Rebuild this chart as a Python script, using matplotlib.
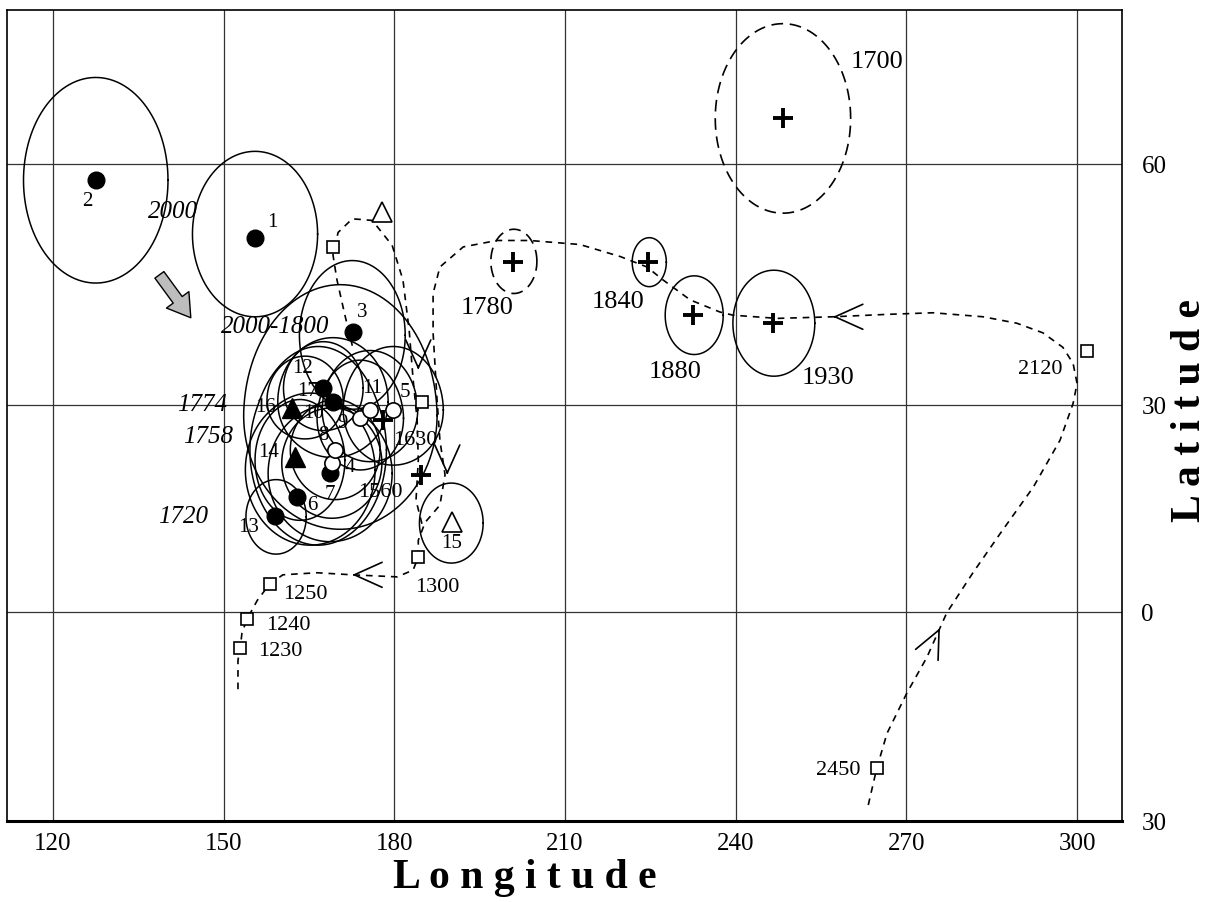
import numpy as np
import matplotlib.pyplot as plt

plt.rcParams['font.family'] = ['Liberation Serif', 'DejaVu Serif']

# the latitude grid of the original is not evenly spaced, knots read off it
LAT_KNOTS = [-90, -30, 0, 30, 60, 90]
POS_KNOTS = [-418, 0, 209, 416, 657, 898]


def lat_fwd(v):
    return np.interp(v, LAT_KNOTS, POS_KNOTS)


def lat_inv(v):
    return np.interp(v, POS_KNOTS, LAT_KNOTS)


# confidence ellipses: centre lon, lat and semi-axes (deg)
ell_lon = [155.5, 127.5, 172.6, 170.5, 179.8, 175.7, 174.0, 167.5, 169.2,
           164.3, 163.4, 169.6, 169.0, 168.7, 165.2, 159.2, 166.6, 190.0,
           224.8, 232.7, 246.7]
ell_lat = [51.3, 58.0, 38.7, 28.5, 29.3, 29.3, 28.1, 32.1, 30.4,
           30.6, 22.0, 23.5, 21.6, 20.1, 20.6, 13.8, 23.5, 12.9,
           47.8, 41.2, 40.2]
ell_a = [11.0, 12.7, 9.3, 17.0, 8.8, 8.4, 7.6, 7.0, 9.7,
         6.7, 7.9, 7.9, 8.8, 10.9, 11.4, 5.3, 12.0, 5.6,
         3.0, 5.1, 7.2]
ell_b = [10.3, 12.8, 9.3, 16.5, 8.0, 7.5, 7.5, 5.8, 8.0,
         5.5, 8.7, 7.2, 8.0, 9.9, 10.9, 5.4, 13.8, 5.8,
         3.05, 4.9, 6.6]

# dashed ellipses (1700, 1780)
dell_lon = [248.3, 201.0]
dell_lat = [65.7, 47.9]
dell_a = [11.9, 4.05]
dell_b = [11.8, 4.0]

# site poles
dot_lon = [155.5, 127.6, 172.7, 167.5, 169.2, 162.9, 159.0, 168.7]
dot_lat = [50.8, 58.0, 39.1, 32.1, 30.4, 16.7, 13.9, 20.1]
ring_lon = [169.0, 169.6, 174.0, 175.7, 179.8]
ring_lat = [21.6, 23.5, 28.1, 29.3, 29.3]
tri_lon = [162.0, 162.5]
tri_lat = [29.6, 22.5]
otri_lon = [177.8, 190.1]
otri_lat = [54.0, 13.0]
cross_lon = [200.9, 224.6, 232.5, 246.6, 248.3, 178.0, 184.7]
cross_lat = [47.8, 47.8, 41.2, 40.2, 65.7, 27.8, 19.9]
sq_lon = [169.2, 184.9, 184.2, 158.1, 154.1, 152.9, 301.8, 264.8]
sq_lat = [49.7, 30.4, 8.0, 4.1, -1.0, -5.2, 36.7, -22.4]

# apparent polar wander path (dashed), 2450 end first
path_lon = [263.3, 264.8, 266.6, 270.1, 273.6, 277.1, 281.7, 286.5, 292.3,
            297.0, 299.3, 300.0, 299.3, 297.5, 294.0, 289.4, 283.5, 274.7,
            266.6, 257.1, 247.3, 239.5, 237.2, 232.0, 227.2, 224.4, 219.7,
            212.6, 203.8, 198.0, 192.1, 188.0, 186.8, 186.8, 187.5, 188.0,
            188.9, 188.0, 185.4, 184.2, 184.2, 183.3, 180.5, 172.6, 166.4,
            160.4, 158.1, 155.9, 154.1, 153.2, 152.9, 152.5, 152.5]
path_lat = [-27.7, -22.4, -17.4, -11.6, -6.5, -0.1, 5.7, 11.4, 18.1,
            24.9, 30.2, 32.7, 35.2, 37.2, 39.0, 40.2, 41.0, 41.5,
            41.3, 41.0, 40.8, 41.2, 41.6, 43.1, 45.6, 47.2, 48.5,
            50.0, 50.5, 50.5, 49.7, 47.2, 43.9, 39.0, 30.6, 24.9,
            19.9, 15.5, 13.0, 10.4, 8.0, 6.1, 5.1, 5.4, 5.7,
            5.4, 4.1, 1.7, -1.0, -3.0, -5.2, -6.9, -11.6]
loop_lon = [172.6, 171.3, 169.9, 169.2, 170.1, 172.6, 176.1, 179.6, 181.5,
            182.6, 183.3, 184.0, 184.2, 183.8, 184.9]
loop_lat = [37.4, 41.2, 45.6, 48.7, 51.5, 53.2, 53.0, 49.9, 45.6,
            39.3, 33.1, 27.8, 22.0, 16.2, 12.6]

# open arrow heads on the path: tip and a point just behind it
arr_lon = [257.1, 172.6, 275.9, 184.2, 189.3]
arr_lat = [41.0, 5.4, -2.3, 34.4, 19.9]
arr_from_lon = [257.6, 173.1, 275.6, 184.2, 189.3]
arr_from_lat = [41.0, 5.4, -2.8, 34.9, 20.4]

# labels
num_text = ['1', '2', '3', '12', '17', '10', '16', '14', '6', '13', '7', '4',
            '8', '9', '11', '5', '15']
num_lon = [158.5, 126.0, 174.3, 163.9, 164.7, 165.7, 157.3, 157.8, 165.5,
           154.3, 168.7, 172.2, 167.5, 170.8, 176.1, 181.9, 190.1]
num_lat = [52.7, 55.3, 41.5, 34.5, 31.7, 28.8, 29.7, 23.2, 15.5, 12.3, 17.0,
           21.0, 25.6, 27.3, 32.1, 31.6, 10.0]
age_text = ['1630', '1560', '1300', '1250', '1240', '1230', '2120', '2450']
age_lon = [183.6, 177.5, 187.5, 164.3, 161.3, 159.9, 293.5, 258.0]
age_lat = [24.9, 17.4, 3.6, 2.5, -1.9, -5.7, 34.4, -22.7]
big_text = ['1780', '1840', '1880', '1930', '1700']
big_lon = [196.3, 219.3, 229.3, 256.2, 264.8]
big_lat = [42.1, 42.8, 34.1, 33.4, 72.7]
ital_text = ['2000', '2000-1800', '1774', '1758', '1720']
ital_lon = [141.1, 159.0, 146.2, 147.2, 142.9]
ital_lat = [54.0, 39.7, 30.0, 25.4, 13.8]

xticks = [120, 150, 180, 210, 240, 270, 300]
yticks = [-30, 0, 30, 60]
ytick_labels = ['30', '0', '30', '60']

fig = plt.figure(figsize=(12.16, 9.02), dpi=100)
ax = fig.add_axes([7 / 1216, 1 - 821 / 902, 1115 / 1216, 811 / 902])
ax.set_yscale('function', functions=(lat_fwd, lat_inv))
ax.set_xlim(111.9, 307.9)
ax.set_ylim(-30, 79.2)

t = np.linspace(0, 2 * np.pi, 240)
for lo, la, a, b in zip(ell_lon, ell_lat, ell_a, ell_b):
    ax.plot(lo + a * np.cos(t), la + b * np.sin(t), color='k', lw=1.1, zorder=3)
for lo, la, a, b in zip(dell_lon, dell_lat, dell_a, dell_b):
    ax.plot(lo + a * np.cos(t), la + b * np.sin(t), color='k', lw=1.2,
            ls=(0, (7, 4)), zorder=3)

ax.plot(path_lon, path_lat, color='k', lw=1.2, ls=(0, (4, 3.5)), zorder=3)
ax.plot(loop_lon, loop_lat, color='k', lw=1.2, ls=(0, (4, 3.5)), zorder=3)

for x1, y1, x0, y0 in zip(arr_lon, arr_lat, arr_from_lon, arr_from_lat):
    ax.annotate('', xy=(x1, y1), xytext=(x0, y0),
                arrowprops=dict(arrowstyle='->,head_length=2.0,head_width=0.9',
                                lw=1.2, color='k', shrinkA=0, shrinkB=0),
                zorder=4)

# grey arrow 2000 -> 2000-1800
ax.annotate('', xy=(144.5, 40.6), xytext=(138.4, 46.5),
            arrowprops=dict(arrowstyle='simple,head_length=0.8,head_width=1.0,tail_width=0.4',
                            fc='#bdbdbd', ec='k', lw=1.0, mutation_scale=20),
            zorder=4)

ax.plot(dot_lon, dot_lat, 'o', color='k', ms=12, zorder=5)
ax.plot(ring_lon, ring_lat, 'o', mfc='white', mec='k', mew=1.2, ms=11, zorder=5)
ax.plot(tri_lon, tri_lat, '^', color='k', ms=15, zorder=5)
ax.plot(otri_lon, otri_lat, '^', mfc='white', mec='k', mew=1.2, ms=15, zorder=5)
ax.plot(cross_lon, cross_lat, '+', color='k', ms=14, mew=2.8, zorder=5)
ax.plot(sq_lon, sq_lat, 's', mfc='white', mec='k', mew=1.2, ms=8, zorder=5)

for s, x, y in zip(num_text, num_lon, num_lat):
    ax.text(x, y, s, fontsize=15, ha='center', va='center', zorder=6)
for s, x, y in zip(age_text, age_lon, age_lat):
    ax.text(x, y, s, fontsize=16, ha='center', va='center', zorder=6)
for s, x, y in zip(big_text, big_lon, big_lat):
    ax.text(x, y, s, fontsize=19, ha='center', va='center', zorder=6)
for s, x, y in zip(ital_text, ital_lon, ital_lat):
    ax.text(x, y, s, fontsize=18, style='italic', ha='center', va='center',
            zorder=6)

ax.set_xticks(xticks)
ax.set_xticklabels([str(v) for v in xticks])
ax.set_yticks(yticks)
ax.set_yticklabels(ytick_labels)
ax.yaxis.tick_right()
ax.tick_params(axis='x', length=0, pad=9, labelsize=18)
ax.tick_params(axis='y', length=0, pad=14, labelsize=18)
ax.grid(True, color='#333333', lw=0.9)
ax.set_axisbelow(True)
for side in ['left', 'top', 'right']:
    ax.spines[side].set_linewidth(1.2)
ax.spines['bottom'].set_linewidth(2.2)

fig.text(525 / 1216, 1 - 878 / 902, 'L o n g i t u d e', fontsize=30,
         weight='bold', ha='center', va='center')
fig.text(1190 / 1216, 1 - 410 / 902, 'L a t i t u d e', fontsize=30,
         weight='bold', ha='center', va='center', rotation=90)

fig.savefig('out.png', dpi=100)
